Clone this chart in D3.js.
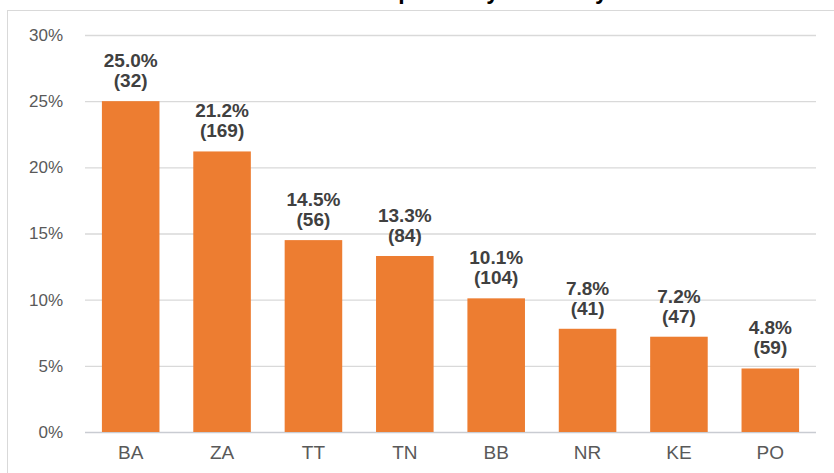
<!DOCTYPE html>
<html>
<head>
<meta charset="utf-8">
<script src="https://cdn.jsdelivr.net/npm/d3@7"></script>
<style>
  body { margin: 0; background: #fff; }
  svg { display: block; font-family: "Liberation Sans", Arial, sans-serif; }
</style>
</head>
<body>
<div id="chart-area"></div>
<script>
// data
var regions = ["BA", "ZA", "TT", "TN", "BB", "NR", "KE", "PO"];
var shares = [25.0, 21.2, 14.5, 13.3, 10.1, 7.8, 7.2, 4.8];
var counts = [32, 169, 56, 84, 104, 41, 47, 59];
var yTicks = [0, 5, 10, 15, 20, 25, 30];

var margin = {top: 35, left: 85, bottom: 41, right: 18},
    width = 834 - margin.left - margin.right,
    height = 473 - margin.top - margin.bottom;

var svg = d3.select("#chart-area").append("svg")
    .attr("width", 834)
    .attr("height", 473)

// outer frame of the chart area (runs off the right / bottom)
svg.append("rect")
    .attr("x", 7.5)
    .attr("y", 10.5)
    .attr("width", 840)
    .attr("height", 480)
    .attr("fill", "#fff")
    .attr("stroke", "#d9d9d9")

// title, mostly cropped away above the picture
svg.append("text")
    .attr("x", 347)
    .attr("y", -1)
    .attr("font-size", 23)
    .attr("font-weight", "bold")
    .attr("fill", "#000")
    .text("Seropositivity in county")

var g = svg.append("g")
    .attr("transform", "translate(" + margin.left + ", " + margin.top + ")");

var x = d3.scaleBand().domain(regions).range([0, width])
    .paddingInner(0.37).paddingOuter(0.185);
var y = d3.scaleLinear().domain([0, 30]).range([height, 0]);

// y axis with gridlines
var yAxis = g.append("g")
    .call(d3.axisLeft(y).tickValues(yTicks).tickSize(-width).tickPadding(22)
        .tickFormat((d) => d + "%"))
yAxis.select(".domain").remove()
yAxis.selectAll(".tick line")
    .attr("stroke", (d) => d === 0 ? "#c9ccd2" : "#d9d9d9")
    .attr("stroke-width", 1.3)
yAxis.selectAll(".tick text")
    .attr("fill", "#595959")
    .attr("font-size", 17)
    .attr("font-family", "Liberation Sans, Arial, sans-serif")

// bars
g.selectAll("rect.bar")
    .data(regions)
    .enter().append("rect")
    .attr("class", "bar")
    .attr("x", (d) => x(d))
    .attr("width", x.bandwidth())
    .attr("y", (d, i) => y(shares[i]))
    .attr("height", (d, i) => height - y(shares[i]))
    .attr("fill", "#ed7d31")

// x axis labels
var xAxis = g.append("g")
    .attr("transform", "translate(0, " + height + ")")
    .call(d3.axisBottom(x).tickSize(0).tickPadding(14))
xAxis.select(".domain").remove()
xAxis.selectAll(".tick text")
    .attr("fill", "#595959")
    .attr("font-size", 19)
    .attr("font-family", "Liberation Sans, Arial, sans-serif")

// data labels: share and count
var labels = g.selectAll("g.lab")
    .data(regions)
    .enter().append("g")
    .attr("class", "lab")
    .attr("transform", (d, i) => "translate(" + (x(d) + x.bandwidth() / 2) + ", " + y(shares[i]) + ")")

labels.append("text")
    .attr("y", -34)
    .attr("text-anchor", "middle")
    .attr("font-size", 19)
    .attr("font-weight", "bold")
    .attr("fill", "#404040")
    .text((d, i) => shares[i].toFixed(1) + "%")

labels.append("text")
    .attr("y", -14)
    .attr("text-anchor", "middle")
    .attr("font-size", 19)
    .attr("font-weight", "bold")
    .attr("fill", "#404040")
    .text((d, i) => "(" + counts[i] + ")")
</script>
</body>
</html>
